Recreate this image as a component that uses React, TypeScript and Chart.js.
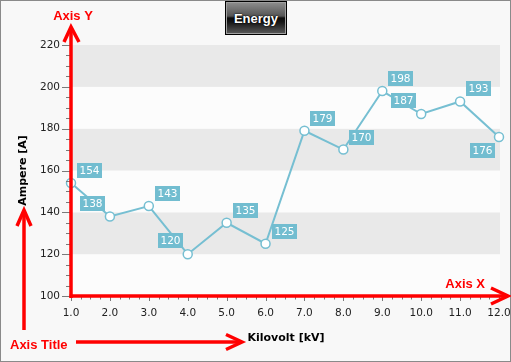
import React, { useEffect, useRef } from "react";
import { Chart, registerables } from "chart.js";

Chart.register(...registerables);

// ---- data ----
const kilovolts = [1, 2, 3, 4, 5, 6, 7, 8, 9, 10, 11, 12];
const amperes = [154, 138, 143, 120, 135, 125, 179, 170, 198, 187, 193, 176];
// label placement per point: ar = above-right, al = above-left, bl = below-left
const labelPlacement = ["ar", "al", "ar", "al", "ar", "ar", "ar", "ar", "ar", "al", "ar", "bl"];
const yMin = 100;
const yMax = 220;
const yMajorStep = 20;
const yMinorStep = 5;
const xMin = 1;
const xMax = 12;
const xMajorStep = 1;
const xMinorStep = 0.25;
const chartTitle = "Energy";
const xTitle = "Kilovolt [kV]";
const yTitle = "Ampere [A]";
const noteAxisX = "Axis X";
const noteAxisY = "Axis Y";
const noteAxisTitle = "Axis Title";

const TEAL = "#76bfd2";
const LABEL_BG = "#72bdd0";
const RED = "#ff0000";

function arrowHead(ctx: CanvasRenderingContext2D, pts: number[][]) {
  ctx.beginPath();
  ctx.moveTo(pts[0][0], pts[0][1]);
  ctx.lineTo(pts[1][0], pts[1][1]);
  ctx.lineTo(pts[2][0], pts[2][1]);
  ctx.stroke();
}

const decorPlugin = {
  id: "decor",
  beforeDraw(chart: any) {
    const { ctx, width, height, chartArea: a } = chart;
    const y = chart.scales.y;
    ctx.save();
    ctx.fillStyle = "#f8f8f8";
    ctx.fillRect(0, 0, width, height);
    let idx = 0;
    for (let v = yMin; v < yMax; v += yMajorStep) {
      const top = y.getPixelForValue(v + yMajorStep);
      const bot = y.getPixelForValue(v);
      ctx.fillStyle = idx % 2 === 1 ? "#e9e9e9" : "#fcfcfc";
      ctx.fillRect(a.left, top, a.right - a.left + 1, bot - top);
      idx++;
    }
    ctx.strokeStyle = "#8a8a8a";
    ctx.lineWidth = 1;
    ctx.strokeRect(0.5, 0.5, width - 1, height - 1);
    ctx.restore();
  },
  afterDatasetsDraw(chart: any) {
    const { ctx, chartArea: a } = chart;
    const x = chart.scales.x;
    const y = chart.scales.y;
    ctx.save();
    // tick marks
    ctx.strokeStyle = "#7a7a7a";
    ctx.lineWidth = 1;
    for (let v = yMin; v <= yMax; v += yMinorStep) {
      const py = Math.round(y.getPixelForValue(v)) + 0.5;
      const major = (v - yMin) % yMajorStep === 0;
      ctx.beginPath();
      ctx.moveTo(a.left - (major ? 9 : 5), py);
      ctx.lineTo(a.left, py);
      ctx.stroke();
    }
    for (let v = xMin; v <= xMax + 1e-9; v += xMinorStep) {
      const px = Math.round(x.getPixelForValue(v)) + 0.5;
      const major = Math.abs((v - xMin) % xMajorStep) < 1e-9;
      ctx.beginPath();
      ctx.moveTo(px, a.bottom);
      ctx.lineTo(px, a.bottom + (major ? 5 : 3.5));
      ctx.stroke();
    }
    // red axis lines
    ctx.strokeStyle = RED;
    ctx.lineWidth = 3.5;
    ctx.lineCap = "butt";
    ctx.beginPath();
    ctx.moveTo(a.left, a.bottom + 2);
    ctx.lineTo(a.left, a.top - 17);
    ctx.stroke();
    ctx.beginPath();
    ctx.moveTo(a.left - 1.5, a.bottom);
    ctx.lineTo(a.right + 9, a.bottom);
    ctx.stroke();
    arrowHead(ctx, [[a.left - 7, a.top - 3], [a.left, a.top - 18], [a.left + 8, a.top - 3]]);
    arrowHead(ctx, [[a.right - 8, a.bottom - 8], [a.right + 9, a.bottom], [a.right - 8, a.bottom + 8]]);

    // data labels
    const meta = chart.getDatasetMeta(0);
    ctx.font = '10.5px "DejaVu Sans"';
    ctx.textAlign = "center";
    ctx.textBaseline = "middle";
    meta.data.forEach((pt: any, i: number) => {
      const txt = String(amperes[i]);
      const w = Math.round(ctx.measureText(txt).width) + 5;
      const h = 15;
      let bx = 0;
      let by = 0;
      const p = labelPlacement[i];
      if (p === "ar") {
        bx = pt.x + 6;
        by = pt.y - 5 - h;
      } else if (p === "al") {
        bx = pt.x - 5 - w;
        by = pt.y - 6 - h;
      } else {
        bx = pt.x - 4 - w;
        by = pt.y + 6;
      }
      bx = Math.round(bx);
      by = Math.round(by);
      ctx.fillStyle = LABEL_BG;
      ctx.fillRect(bx, by, w, h);
      ctx.fillStyle = "#ffffff";
      ctx.fillText(txt, bx + w / 2, by + h / 2 + 0.5);
    });
    ctx.restore();
  },
  afterDraw(chart: any) {
    const { ctx, chartArea: a } = chart;
    ctx.save();
    // axis titles
    ctx.fillStyle = "#000000";
    ctx.font = 'bold 11px "DejaVu Sans"';
    ctx.textAlign = "center";
    ctx.textBaseline = "middle";
    ctx.fillText(xTitle, (a.left + a.right) / 2 + 1, 338.5);
    ctx.save();
    ctx.translate(23, (a.top + a.bottom) / 2);
    ctx.rotate(-Math.PI / 2);
    ctx.fillText(yTitle, 0, 0);
    ctx.restore();

    // annotation notes
    ctx.fillStyle = RED;
    ctx.font = 'bold 13px "Liberation Sans"';
    ctx.textBaseline = "middle";
    ctx.textAlign = "center";
    ctx.fillText(noteAxisY, a.left + 2, 16);
    ctx.textAlign = "right";
    ctx.fillText(noteAxisX, a.right - 14, a.bottom - 12);
    ctx.textAlign = "left";
    ctx.fillText(noteAxisTitle, 10, 345);

    ctx.strokeStyle = RED;
    ctx.lineWidth = 3.5;
    ctx.beginPath();
    ctx.moveTo(24, 330);
    ctx.lineTo(24, 211);
    ctx.stroke();
    arrowHead(ctx, [[17, 226], [24, 210], [31, 226]]);
    ctx.beginPath();
    ctx.moveTo(76, 342);
    ctx.lineTo(241, 342);
    ctx.stroke();
    arrowHead(ctx, [[226, 334.5], [242, 342], [226, 349.5]]);
    ctx.restore();
  },
};

export default function App() {
  const canvasRef = useRef<HTMLCanvasElement | null>(null);

  useEffect(() => {
    document.body.style.margin = "0";
    const canvas = canvasRef.current;
    if (!canvas) return;
    const chart = new Chart(canvas, {
      type: "line",
      data: {
        datasets: [
          {
            label: chartTitle,
            data: kilovolts.map((k, i) => ({ x: k, y: amperes[i] })),
            borderColor: TEAL,
            borderWidth: 2,
            pointRadius: 4.5,
            pointBorderWidth: 1.5,
            pointBackgroundColor: "#ffffff",
            pointBorderColor: TEAL,
            tension: 0,
            clip: false as any,
          },
        ],
      },
      options: {
        responsive: false,
        animation: false,
        devicePixelRatio: 1,
        layout: { padding: { top: 45, right: 12, left: 0, bottom: 0 } },
        plugins: {
          legend: { display: false },
          title: { display: false },
          tooltip: { enabled: false },
        },
        scales: {
          x: {
            type: "linear",
            min: xMin,
            max: xMax,
            border: { display: false },
            grid: { drawOnChartArea: false, drawTicks: true, tickLength: 6, color: "rgba(0,0,0,0)" },
            ticks: {
              stepSize: xMajorStep,
              padding: 5,
              color: "#222222",
              font: { family: "DejaVu Sans", size: 10.5 },
              maxRotation: 0,
              callback: (v: any) => Number(v).toFixed(1),
            },
            afterFit: (s: any) => {
              s.height = 66;
              s.paddingLeft = 0;
              s.paddingRight = 0;
            },
          },
          y: {
            type: "linear",
            min: yMin,
            max: yMax,
            border: { display: false },
            grid: { drawOnChartArea: false, drawTicks: true, tickLength: 9, color: "rgba(0,0,0,0)" },
            ticks: {
              stepSize: yMajorStep,
              padding: 2,
              color: "#222222",
              font: { family: "DejaVu Sans", size: 10.5 },
            },
            afterFit: (s: any) => {
              s.width = 71;
              s.paddingTop = 0;
              s.paddingBottom = 0;
            },
          },
        },
      },
      plugins: [decorPlugin],
    });
    return () => chart.destroy();
  }, []);

  return (
    <div style={{ position: "relative", width: 511, height: 362 }}>
      <canvas ref={canvasRef} width={511} height={362} style={{ display: "block", width: 511, height: 362 }} />
      <div
        style={{
          position: "absolute",
          left: 225,
          top: 1,
          width: 62,
          height: 34,
          boxSizing: "border-box",
          border: "1px solid #000",
          boxShadow: "inset 0 0 0 1px #a0a0a0",
          background: "linear-gradient(to bottom, #8e8e8e 0%, #555 44%, #0c0c0c 50%, #151515 62%, #5c5c5c 100%)",
          color: "#ffffff",
          font: 'bold 13px "Liberation Sans"',
          display: "flex",
          alignItems: "center",
          justifyContent: "center",
          textShadow: "0 0 2px #000, 0 0 1px #000",
        }}
      >
        {chartTitle}
      </div>
    </div>
  );
}
